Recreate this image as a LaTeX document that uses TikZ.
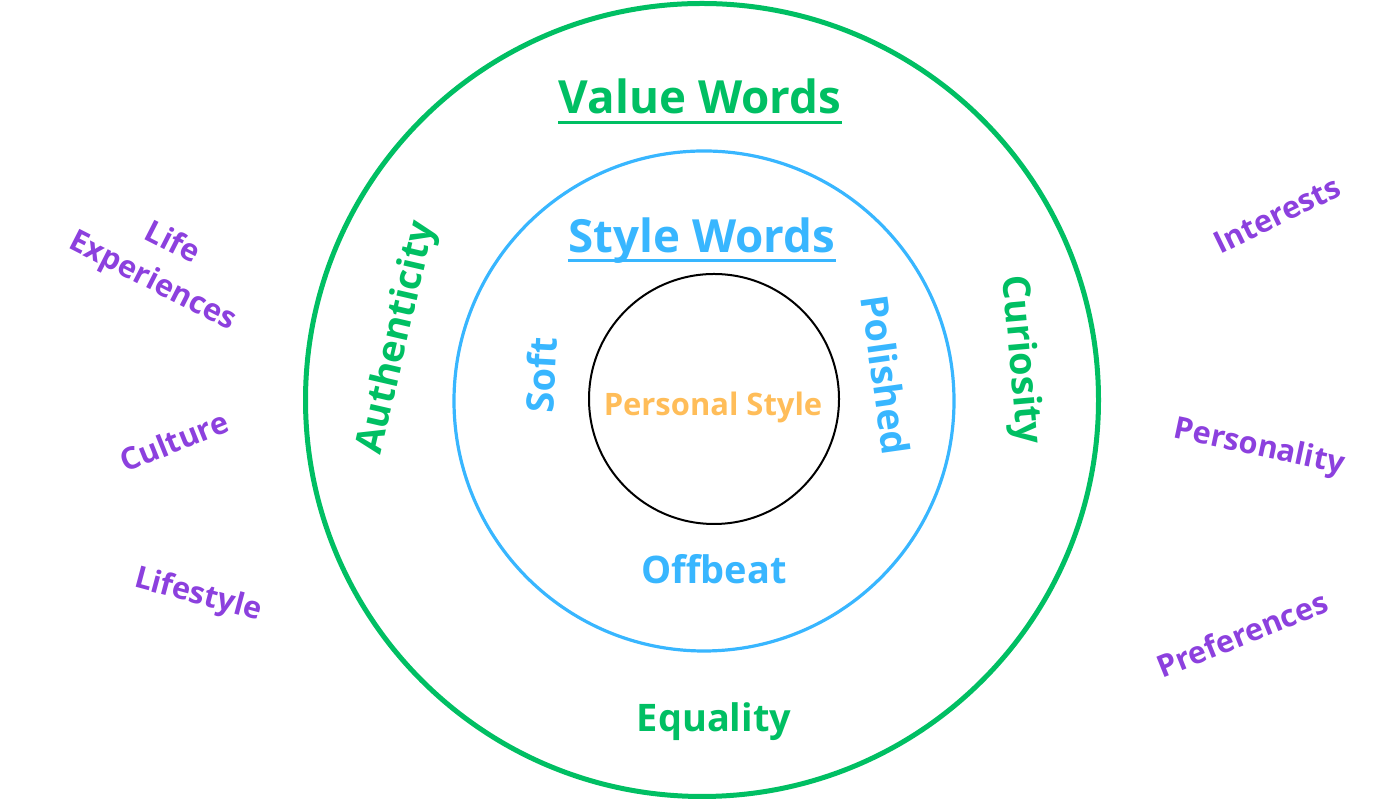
\documentclass[tikz,border=0pt]{standalone}
\usepackage{fontspec}
\setmainfont{Open Sans}
\usetikzlibrary{positioning}
\definecolor{valgreen}{RGB}{0, 191, 99}
\definecolor{styblue}{RGB}{56, 182, 255}
\definecolor{perorange}{RGB}{255, 189, 89}
\definecolor{srcpurple}{RGB}{140, 64, 222}

\begin{document}
\begin{tikzpicture}[
        ring/.style={circle, inner sep=0pt, fill=none},
        hd/.style={font=\fontsize{13}{15}\selectfont\bfseries, inner sep=0pt, anchor=base},
        vword/.style={text=valgreen, font=\fontsize{10.8}{13}\selectfont\bfseries},
        sword/.style={text=styblue, font=\fontsize{10.8}{13}\selectfont\bfseries},
        src/.style={text=srcpurple, font=\fontsize{8.7}{12.2}\selectfont\bfseries,
            align=center}
    ]
    \useasboundingbox (0, 0) rectangle (14, 8);

    % the three rings
    \node[ring, draw=valgreen, line width=0.5mm, minimum size=7.93cm]
        (outer) at (7.02, 4.00) {};
    \node[ring, draw=styblue, line width=0.32mm, minimum size=5.00cm]
        (middle) at (7.04, 3.99) {};
    \node[ring, draw=black, line width=0.2mm, minimum size=2.50cm]
        (inner) at (7.14, 4.01) {};

    % headings
    \node[hd, text=valgreen] (valhd) at (7.00, 6.86) {Value Words};
    \draw[valgreen, line width=0.3mm]
        ([yshift=-2.4pt]valhd.base west) -- ([yshift=-2.4pt]valhd.base east);
    \node[hd, text=styblue] (styhd) at (7.02, 5.47) {Style Words};
    \draw[styblue, line width=0.3mm]
        ([yshift=-2.2pt]styhd.base west) -- ([yshift=-2.2pt]styhd.base east);

    \node[text=perorange, font=\fontsize{8.8}{11}\selectfont\bfseries]
        (pers) at (7.13, 3.93) {Personal Style};

    % style words
    \node[sword, rotate=87] (soft) at (5.41, 4.25) {Soft};
    \node[sword, rotate=-82] (polished) at (8.86, 4.25) {Polished};
    \node[sword] (offbeat) at (7.14, 2.31) {Offbeat};

    % value words
    \node[vword, rotate=77] (auth) at (3.98, 4.62) {Authenticity};
    \node[vword, rotate=-85] (curio) at (10.20, 4.40) {Curiosity};
    \node[vword] (equal) at (7.14, 0.78) {Equality};

    % where it comes from
    \node[src, rotate=-27] (life) at (1.62, 5.37) {Life\\Experiences};
    \node[src, rotate=22] (culture) at (1.74, 3.59) {Culture};
    \node[src, rotate=-15] (lifestyle) at (1.98, 2.04) {Lifestyle};
    \node[src, rotate=26] (interests) at (12.77, 5.85) {Interests};
    \node[src, rotate=-12] (personality) at (12.59, 3.52) {Personality};
    \node[src, rotate=22] (prefs) at (12.42, 1.66) {Preferences};

\end{tikzpicture}
\end{document}
